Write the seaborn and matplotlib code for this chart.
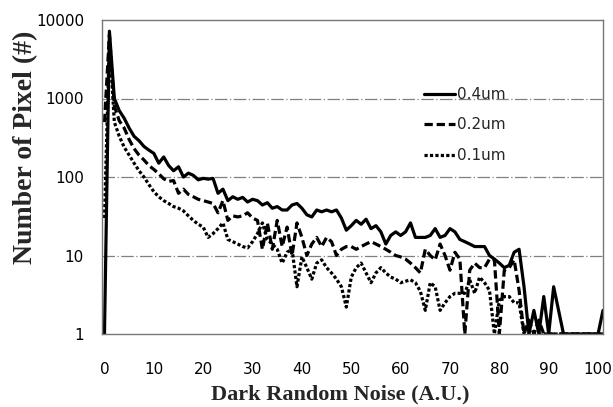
import numpy as np
import pandas as pd
import matplotlib
matplotlib.use("Agg")
import matplotlib.pyplot as plt
import seaborn as sns
from matplotlib.ticker import FixedLocator, FixedFormatter, NullLocator

# ---- data ----
noise = list(range(0, 102))

px_04um = [1, 7200, 1000, 700, 560, 420, 330, 290, 245, 220,
           200, 150, 180, 140, 120, 135, 100, 112, 105, 92,
           96, 94, 96, 62, 70, 50, 56, 52, 55, 48,
           52, 50, 44, 47, 40, 42, 38, 38, 44, 46,
           40, 33, 31, 38, 36, 38, 36, 38, 30, 21,
           24, 28, 25, 29, 22, 24, 20, 14, 18, 20,
           18, 20, 26, 17, 17, 17, 18, 22, 17, 18,
           22, 20, 16, 15, 14, 13, 13, 13, 10, 9,
           8, 7, 7.5, 11, 12, 4, 1, 2, 1, 3,
           1, 4, 2, 1, 1, 1, 1, 1, 1, 1,
           1, 2]

px_02um = [500, 6500, 800, 520, 420, 300, 230, 190, 165, 140,
           125, 110, 95, 88, 90, 62, 70, 60, 56, 52,
           50, 48, 46, 35, 50, 28, 32, 31, 32, 35,
           30, 28, 12, 26, 12, 28, 13, 23, 10, 26,
           17, 10, 14, 17, 13, 17, 15, 10, 12, 13,
           13, 12, 13, 14, 15, 14, 13, 12, 11, 10,
           9.6, 9, 8, 7, 6, 12, 10, 8.8, 14, 10,
           6.5, 11, 9, 1, 6.5, 8, 7, 7, 9, 8.8,
           1, 6.5, 7, 8.8, 3.6, 1, 1.5, 1, 1.5, 1,
           1, 1, 1, 1, 1, 1, 1, 1, 1, 1,
           1, 1]

px_01um = [30, 5500, 500, 330, 240, 190, 150, 120, 100, 80,
           65, 56, 50, 46, 42, 40, 37, 32, 28, 25,
           23, 17, 19, 22, 26, 16, 15, 14, 13, 12.5,
           15, 19, 26, 16, 14, 12, 8, 11, 12, 4,
           9.6, 7, 5, 8, 8.8, 7, 6, 5, 4, 2.2,
           5.3, 7, 8, 6, 4.5, 6, 7, 6, 5.3, 5,
           4.5, 4.7, 4.9, 4.5, 3.5, 2, 4.5, 4, 2, 2.5,
           3, 3.3, 3.3, 3.3, 4.9, 3.3, 5.3, 4.5, 3.6, 1,
           2.7, 3, 3, 2.5, 2.5, 1, 1, 1, 1, 1,
           1, 1, 1, 1, 1, 1, 1, 1, 1, 1,
           1, 1]

series_labels = ["0.4um", "0.2um", "0.1um"]
y_ticks = [1, 10, 100, 1000, 10000]
y_tick_labels = ["1", "10", "100", "1000", "10000"]
x_ticks = [0, 10, 20, 30, 40, 50, 60, 70, 80, 90, 100]

df = pd.DataFrame({"noise": noise * 3,
                   "count": px_04um + px_02um + px_01um,
                   "size": sum([[s] * len(noise) for s in series_labels], [])})

sns.set_theme(style="white")
plt.rcParams["font.family"] = ["DejaVu Sans"]

fig = plt.figure(figsize=(6.13, 4.07), dpi=100)
ax = fig.add_axes([102 / 613, 1 - 334 / 407, (603 - 102) / 613, (334 - 20) / 407])

styles = {"0.4um": "-", "0.2um": (0, (2.6, 1.2)), "0.1um": (0, (1, 0.7))}
for lab in series_labels:
    sub = df[df["size"] == lab]
    sns.lineplot(data=sub, x="noise", y="count", ax=ax, color="black",
                 linewidth=2.3, linestyle=styles[lab], label=lab)

ax.set_yscale("log")
ax.set_ylim(1, 10000)
ax.set_xlim(-0.5, 101)
ax.yaxis.set_major_locator(FixedLocator(y_ticks))
ax.yaxis.set_major_formatter(FixedFormatter(y_tick_labels))
ax.yaxis.set_minor_locator(NullLocator())
ax.set_xticks(x_ticks)
ax.set_xticklabels([str(v) for v in x_ticks])
ax.tick_params(axis="both", length=0, labelsize=11, colors="black")
ax.tick_params(axis="x", pad=20)
ax.tick_params(axis="y", pad=13)

for yv in [10, 100, 1000]:
    ax.axhline(yv, color="#808080", linewidth=0.9, linestyle=(0, (10, 2, 1, 2)), zorder=0)

for sp in ax.spines.values():
    sp.set_visible(True)
    sp.set_color("#777777")
    sp.set_linestyle((0, (1, 1)))
    sp.set_linewidth(1.0)

ax.set_xlabel("Dark Random Noise (A.U.)", family=["Liberation Serif"], fontweight="bold",
              fontsize=16)
ax.xaxis.set_label_coords(0.475, -0.16)
ax.set_ylabel("Number of Pixel (#)", family=["Liberation Serif"], fontweight="bold",
              fontsize=20)
ax.yaxis.set_label_coords(-0.128, 0.596)

leg = ax.legend(loc="upper left", bbox_to_anchor=(0.643, 0.787), frameon=False,
                borderpad=0, borderaxespad=0,
                handlelength=2.0, handletextpad=0.15, labelspacing=1.02, fontsize=11)
for h in leg.get_lines():
    h.set_linewidth(2.3)

fig.savefig("out.png", dpi=100)
